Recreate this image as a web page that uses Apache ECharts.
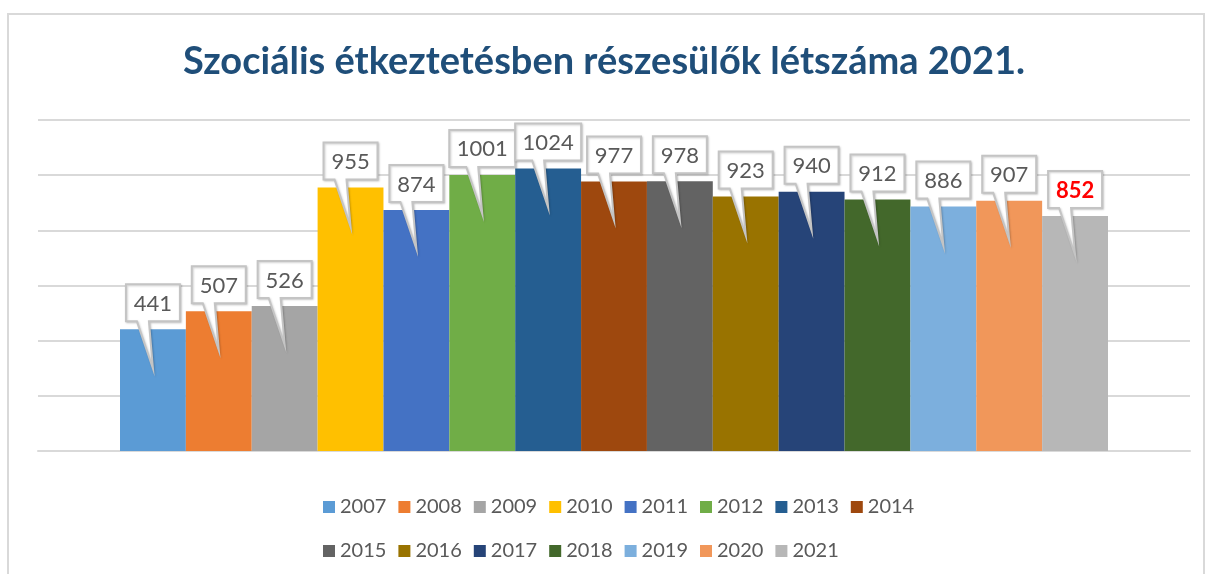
<!DOCTYPE html>
<html>
<head>
<meta charset="utf-8">
<script src="https://cdn.jsdelivr.net/npm/echarts@6/dist/echarts.min.js"></script>
<style>
  html, body { margin: 0; padding: 0; background: #fff; }
  #frame { position: absolute; left: 7px; top: 13px; width: 1198px; height: 600px; border: 2px solid #D9D9D9; box-sizing: border-box; }
  #chart { position: absolute; left: 0; top: 0; width: 1208px; height: 574px; }
</style>
</head>
<body>
<div id="frame"></div>
<div id="chart"></div>
<script>
// adatok
var years = ['2007', '2008', '2009', '2010', '2011', '2012', '2013', '2014', '2015', '2016', '2017', '2018', '2019', '2020', '2021']
var values = [441, 507, 526, 955, 874, 1001, 1024, 977, 978, 923, 940, 912, 886, 907, 852]
var colors = ['#5B9BD5', '#ED7D31', '#A5A5A5', '#FFC000', '#4472C4', '#70AD47', '#255E91', '#9E480E',
    '#636363', '#997300', '#264478', '#43682B', '#7CAFDD', '#F1975A', '#B7B7B7']
var yTicks = [0, 200, 400, 600, 800, 1000, 1200]

var font = 'Lato, "Open Sans", sans-serif'
var myChart = echarts.init(document.getElementById('chart'))

var barSeries = years.map(function (y, i) {
    return {
        name: y,
        type: 'bar',
        xAxisIndex: 1,
        yAxisIndex: 1,
        barGap: '-100%',
        barCategoryGap: '0%',
        itemStyle: { color: colors[i] },
        data: years.map(function (yy, j) { return j === i ? values[i] : '-' })
    }
})

// kiemelő buborékok
var calloutSeries = {
    type: 'custom',
    xAxisIndex: 1,
    yAxisIndex: 1,
    z: 10,
    silent: true,
    data: values.map(function (v, i) { return [i, v] }),
    renderItem: function (params, api) {
        var p = api.coord([api.value(0), api.value(1)])
        var cx = p[0], top = p[1]
        var txt = String(api.value(1))
        var w = txt.length > 3 ? 66 : 54
        var h = 37
        var bottom = top - 8
        var left = cx - w / 2, right = cx + w / 2
        var isLast = params.dataIndex === values.length - 1
        return {
            type: 'group',
            children: [{
                type: 'polygon',
                shape: {
                    points: [[left, bottom - h], [right, bottom - h], [right, bottom],
                        [cx - 4, bottom], [cx, top + 39], [cx - 16, bottom], [left, bottom]]
                },
                style: {
                    fill: '#fff', stroke: '#C4C4C4', lineWidth: 2,
                    shadowBlur: 2, shadowColor: 'rgba(0,0,0,0.18)', shadowOffsetX: 1, shadowOffsetY: 1
                }
            }, {
                type: 'text',
                x: cx,
                y: bottom - h / 2 + 1,
                style: {
                    text: txt,
                    align: 'center',
                    verticalAlign: 'middle',
                    fontFamily: font,
                    fontSize: 22,
                    fontWeight: isLast ? 'bold' : 'normal',
                    fill: isLast ? '#FF0000' : '#595959'
                }
            }]
        }
    }
}

var legendStyle = {
    icon: 'rect',
    itemWidth: 12,
    itemHeight: 12,
    itemGap: 12,
    left: 318,
    textStyle: { fontFamily: font, fontSize: 20, color: '#595959' }
}

var option = {
    animation: false,
    title: {
        text: 'Szociális étkeztetésben részesülők létszáma 2021.',
        left: 'center',
        top: 38,
        textStyle: { fontFamily: font, fontSize: 38, fontWeight: 'bold', color: '#1F4E79' }
    },
    legend: [
        Object.assign({ top: 492, data: years.slice(0, 8) }, legendStyle),
        Object.assign({ top: 536, data: years.slice(8) }, legendStyle)
    ],
    grid: [
        { left: 38, right: 18, top: 120, bottom: 123 },
        { left: 120, right: 100, top: 120, bottom: 123 }
    ],
    xAxis: [{
        type: 'category',
        gridIndex: 0,
        data: [''],
        axisLine: { lineStyle: { color: '#D9D9D9', width: 2 } },
        axisTick: { show: false },
        axisLabel: { show: false }
    }, {
        type: 'category',
        gridIndex: 1,
        data: years,
        show: false
    }],
    yAxis: [{
        type: 'value',
        gridIndex: 0,
        min: yTicks[0],
        max: yTicks[yTicks.length - 1],
        interval: 200,
        axisLine: { show: false },
        axisTick: { show: false },
        axisLabel: { show: false },
        splitLine: { lineStyle: { color: '#D9D9D9', width: 2 } }
    }, {
        type: 'value',
        gridIndex: 1,
        min: yTicks[0],
        max: yTicks[yTicks.length - 1],
        interval: 200,
        show: false,
        splitLine: { show: false }
    }],
    series: barSeries.concat([calloutSeries])
}

myChart.setOption(option)
</script>
</body>
</html>
